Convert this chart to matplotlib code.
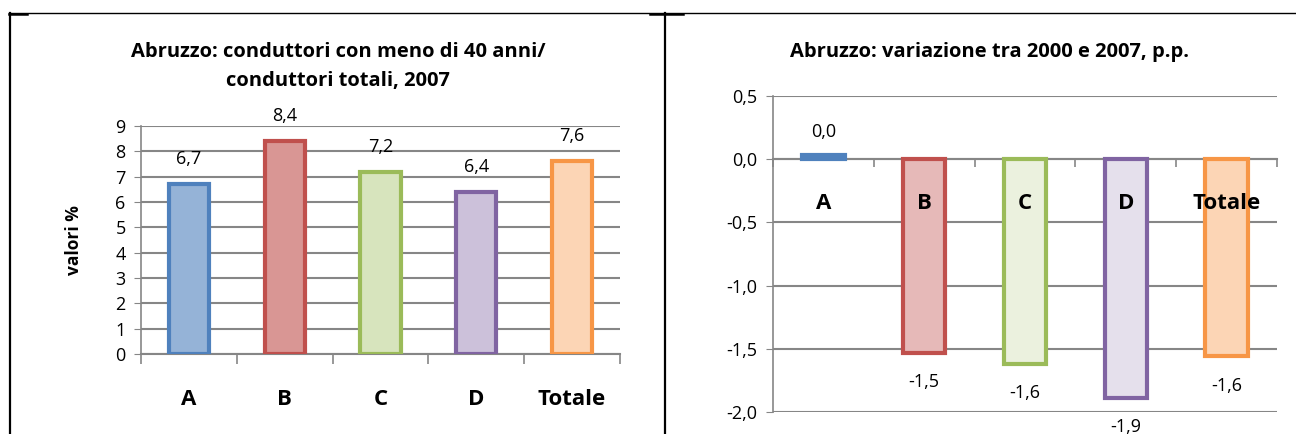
import matplotlib
matplotlib.use("Agg")
import matplotlib.pyplot as plt
from matplotlib.lines import Line2D
import numpy as np

plt.rcParams['font.family'] = ['Open Sans', 'DejaVu Sans']

categories = ["A", "B", "C", "D", "Totale"]
share_2007 = [6.7, 8.4, 7.2, 6.4, 7.6]
change_2000_2007 = [0.03, -1.53, -1.62, -1.89, -1.56]
left_yticks = [0, 1, 2, 3, 4, 5, 6, 7, 8, 9]
right_yticks = [0.5, 0.0, -0.5, -1.0, -1.5, -2.0]

edge_colors = ["#4F81BD", "#C0504D", "#9BBB59", "#8064A2", "#F79646"]
face_left = ["#95B3D7", "#D99694", "#D7E4BD", "#CCC1DA", "#FCD5B5"]
face_right = ["#B9CDE5", "#E6B9B8", "#EBF1DE", "#E5E0EC", "#FCD5B5"]

W, H = 1296, 434
fig = plt.figure(figsize=(W / 100, H / 100), dpi=100)

def fx(px):
    return px / W

def fy(py):
    return 1 - py / H

def fmt(v):
    return f"{v:.1f}".replace(".", ",")

grid_col = "#868686"
TICK_FS = 13
VAL_FS = 13
CAT_FS = 16
TITLE_FS = 14.5

# ---------------- left panel ----------------
axL = fig.add_axes([fx(141), fy(354), fx(620) - fx(141), fy(126) - fy(354)])
x = np.arange(len(categories))
axL.bar(x, share_2007, width=0.42, color=face_left, edgecolor=edge_colors,
        linewidth=3.0, zorder=3)
axL.set_xlim(-0.5, len(categories) - 0.5)
axL.set_ylim(0, 9)
axL.set_yticks(left_yticks)
axL.set_yticklabels([str(t) for t in left_yticks], fontsize=TICK_FS)
axL.yaxis.grid(True, color=grid_col, linewidth=1.5, zorder=0)
axL.set_axisbelow(True)
for s in ["top", "right"]:
    axL.spines[s].set_visible(False)
axL.spines["left"].set_color(grid_col)
axL.spines["bottom"].set_color(grid_col)
axL.spines["left"].set_linewidth(1.2)
axL.spines["bottom"].set_linewidth(1.5)
axL.tick_params(axis="y", length=5, color=grid_col, pad=6)
axL.set_xticks(np.arange(-0.5, len(categories), 1.0))
axL.set_xticklabels([])
axL.tick_params(axis="x", which="major", length=7, color=grid_col, width=1.2)
axL.set_xticks(x, minor=True)
axL.set_xticklabels(categories, minor=True, fontsize=CAT_FS, fontweight="bold")
axL.tick_params(axis="x", which="minor", length=0, pad=25)
for xi, v in zip(x, share_2007):
    axL.annotate(fmt(v), (xi, v), xytext=(0, 18), textcoords="offset points",
                 ha="center", va="center", fontsize=VAL_FS)
fig.text(fx(74), fy(240), "valori %", rotation=90, ha="center", va="center",
         fontsize=12.5, fontweight="bold")
fig.text(fx(338), fy(52), "Abruzzo: conduttori con meno di 40 anni/",
         ha="center", va="center", fontsize=TITLE_FS, fontweight="bold")
fig.text(fx(338), fy(81), "conduttori totali, 2007",
         ha="center", va="center", fontsize=TITLE_FS, fontweight="bold")

# ---------------- right panel ----------------
axR = fig.add_axes([fx(773), fy(412), fx(1277) - fx(773), fy(96) - fy(412)])
axR.bar(x, change_2000_2007, width=0.42, color=face_right, edgecolor=edge_colors,
        linewidth=3.0, zorder=3)
axR.set_xlim(-0.5, len(categories) - 0.5)
axR.set_ylim(-2.0, 0.5)
axR.set_yticks(right_yticks)
axR.set_yticklabels([fmt(t) for t in right_yticks], fontsize=TICK_FS)
axR.yaxis.grid(True, color=grid_col, linewidth=1.5, zorder=0)
axR.set_axisbelow(True)
for s in ["top", "right"]:
    axR.spines[s].set_visible(False)
axR.spines["left"].set_color(grid_col)
axR.spines["left"].set_linewidth(1.2)
axR.spines["bottom"].set_position(("data", 0))
axR.spines["bottom"].set_color(grid_col)
axR.spines["bottom"].set_linewidth(1.5)
axR.spines["bottom"].set_zorder(2)
axR.tick_params(axis="y", length=5, color=grid_col, pad=6)
axR.set_xticks(np.arange(-0.5, len(categories), 1.0))
axR.set_xticklabels([])
axR.tick_params(axis="x", which="major", length=6, color=grid_col, width=1.2)
for xi, c in zip(x, categories):
    axR.text(xi, -0.35, c, ha="center", va="center", fontsize=CAT_FS,
             fontweight="bold", zorder=5)
for xi, v in zip(x, change_2000_2007):
    off = 17 if v >= 0 else -21
    axR.annotate(fmt(v), (xi, v), xytext=(0, off), textcoords="offset points",
                 ha="center", va="center", fontsize=VAL_FS)
fig.text(fx(990), fy(52), "Abruzzo: variazione tra 2000 e 2007, p.p.",
         ha="center", va="center", fontsize=TITLE_FS, fontweight="bold")

# ---------------- frame lines ----------------
fig.add_artist(Line2D([fx(9), fx(1296)], [fy(13), fy(13)], color="black",
                      linewidth=1.0, transform=fig.transFigure))
fig.add_artist(Line2D([fx(10), fx(10)], [fy(13), fy(434)], color="black",
                      linewidth=1.6, transform=fig.transFigure))
fig.add_artist(Line2D([fx(665), fx(665)], [fy(13), fy(434)], color="black",
                      linewidth=1.6, transform=fig.transFigure))
fig.add_artist(Line2D([fx(9), fx(27)], [fy(13.5), fy(13.5)], color="black",
                      linewidth=1.8, transform=fig.transFigure))
fig.add_artist(Line2D([fx(650), fx(683)], [fy(13.5), fy(13.5)], color="black",
                      linewidth=1.8, transform=fig.transFigure))

fig.savefig("out.png", dpi=100)
